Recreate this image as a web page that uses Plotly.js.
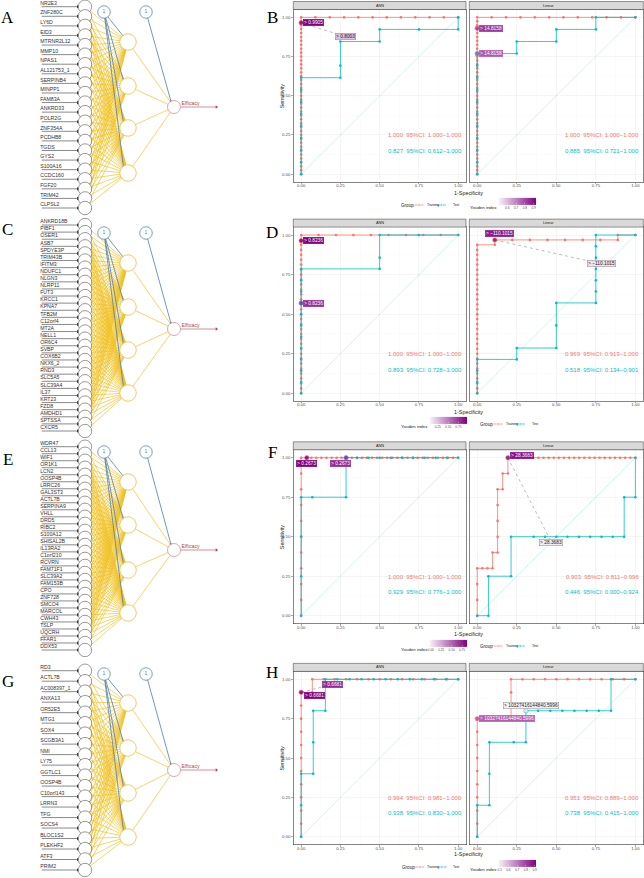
<!DOCTYPE html>
<html>
<head>
<meta charset="utf-8">
<script src="https://cdn.plot.ly/plotly-3.0.1.min.js"></script>
<style>
html,body{margin:0;padding:0;background:#ffffff;}
#chart{width:644px;height:878px;}
</style>
</head>
<body>
<div id="chart"></div>
<script>
// ======================= DATA =======================
// Input genes of the four neural networks (A, C, E, G)
const genesA = ['NR2E3','ZNF280C','LY6D','EID3','MTRNR2L12','MMP10','NPAS1','AL121753_1','SERPINB4','MINPP1','FAM83A','ANKRD33','POLR2G','ZNF354A','PCDHB8','TGDS','GYS2','S100A16','CCDC160','FGF20','TRIM42','CLPSL2'];
const genesC = ['ANKRD18B','PIBF1','OSER1','ASB7','SPDYE3P','TRIM43B','IFITM3','NDUFC1','NLGN3','NLRP11','FUT3','KRCC1','KPNA7','TFB2M','C12orf4','MT2A','NELL1','OR6C4','SVBP','COX6B2','NKX6_2','RND3','SLC5A5','SLC39A4','IL37','KRT23','FZD8','AMDHD1','SPTSSA','CXCR5'];
const genesE = ['WDR47','CCL13','WIF1','OR1K1','LCN2','OOSP4B','LRRC26','GAL3ST3','ACTL7B','SERPINA9','VHLL','DRD5','RIBC2','S100A12','SHISAL2B','IL13RA2','C1orf210','RCVRN','FAM71F1','SLC39A2','FAM153B','CPO','ZNF728','SMCO4','MARCOL','CWH43','TSLP','UQCRH','FFAR1','DDX53'];
const genesG = ['RD3','ACTL7B','AC008397_1','ANXA13','OR52E5','MTG1','SOX4','SCGB3A1','NMI','LY75','GGTLC1','OOSP4B','C10orf143','LRRN3','TFG','SOCS4','BLOC1S2','PLEKHF2','ATF3','PRIM2'];
const hiddenCount = 4;
const outputName = 'Efficacy';
const biasLabel = '1';

// ROC curves: fpr = 1-Specificity, tpr = Sensitivity
// Panel B
const bAnnTrFpr = [0,0,0,0,0,0,0,0,0,0, 0,0,0,0,0,0,0,0,0,0, 0,0,0,0,0,0,0,0,0,0, 0,0,0,0,0,0,0,0,0,0, 0, 0.091,0.182,0.273,0.364,0.455,0.545,0.636,0.727,0.818,0.909,1];
const bAnnTrTpr = [0,0.025,0.05,0.075,0.1,0.125,0.15,0.175,0.2,0.225,0.25,0.275,0.3,0.325,0.35,0.375,0.4,0.425,0.45,0.475,0.5,0.525,0.55,0.575,0.6,0.625,0.65,0.675,0.7,0.725,0.75,0.775,0.8,0.825,0.85,0.875,0.9,0.925,0.95,0.975,1, 1,1,1,1,1,1,1,1,1,1,1];
const bAnnTeFpr = [0,0,0,0,0,0,0,0,0, 0.25,0.25,0.25, 0.5,0.5, 0.75, 1,1];
const bAnnTeTpr = [0,0.077,0.154,0.231,0.308,0.385,0.462,0.538,0.615, 0.615,0.692,0.846, 0.846,0.923, 0.923, 0.923,1];
const bLinTrFpr = [0,0,0,0,0,0,0,0,0,0, 0,0,0,0,0,0,0,0,0,0, 0,0,0,0,0,0,0,0,0,0, 0,0,0,0,0,0,0,0,0,0, 0, 0.091,0.182,0.273,0.364,0.455,0.545,0.636,0.727,0.818,0.909,1];
const bLinTrTpr = [0,0.025,0.05,0.075,0.1,0.125,0.15,0.175,0.2,0.225,0.25,0.275,0.3,0.325,0.35,0.375,0.4,0.425,0.45,0.475,0.5,0.525,0.55,0.575,0.6,0.625,0.65,0.675,0.7,0.725,0.75,0.775,0.8,0.825,0.85,0.875,0.9,0.925,0.95,0.975,1, 1,1,1,1,1,1,1,1,1,1,1];
const bLinTeFpr = [0,0,0,0,0,0,0,0,0,0,0, 0.25,0.25, 0.5,0.5, 0.75,0.75, 1];
const bLinTeTpr = [0,0.077,0.154,0.231,0.308,0.385,0.462,0.538,0.615,0.692,0.769, 0.769,0.846, 0.846,0.923, 0.923,1, 1];
// Panel D
const dAnnTrFpr = [0,0,0,0,0,0,0,0,0,0, 0,0,0,0,0,0,0,0,0,0, 0,0,0,0,0,0,0,0,0,0, 0,0,0, 0.111,0.222,0.333,0.444,0.556,0.667,0.778,0.889,1];
const dAnnTrTpr = [0,0.031,0.063,0.094,0.125,0.156,0.188,0.219,0.25,0.281,0.313,0.344,0.375,0.406,0.438,0.469,0.5,0.531,0.563,0.594,0.625,0.656,0.688,0.719,0.75,0.781,0.813,0.844,0.875,0.906,0.938,0.969,1, 1,1,1,1,1,1,1,1,1];
const dAnnTeFpr = [0,0,0,0,0,0,0,0,0,0,0,0, 0.5,0.5,0.5, 0.75, 1];
const dAnnTeTpr = [0,0.071,0.143,0.214,0.286,0.357,0.429,0.5,0.571,0.643,0.714,0.786, 0.786,0.857,1, 1, 1];
const dLinTrFpr = [0,0,0,0,0,0,0,0,0,0, 0,0,0,0,0,0,0,0,0,0, 0,0,0,0,0,0,0,0,0,0, 0, 0.111,0.111,0.222,0.333,0.444,0.556,0.667,0.778,0.889,0.889,1];
const dLinTrTpr = [0,0.031,0.063,0.094,0.125,0.156,0.188,0.219,0.25,0.281,0.313,0.344,0.375,0.406,0.438,0.469,0.5,0.531,0.563,0.594,0.625,0.656,0.688,0.719,0.75,0.781,0.813,0.844,0.875,0.906,0.938, 0.938,0.969,0.969,0.969,0.969,0.969,0.969,0.969,0.969,1,1];
const dLinTeFpr = [0,0,0,0, 0.25,0.25, 0.5,0.5,0.5, 0.75,0.75,0.75,0.75,0.75,0.75,0.75, 1];
const dLinTeTpr = [0,0.071,0.143,0.214, 0.214,0.286, 0.286,0.429,0.571, 0.571,0.643,0.714,0.786,0.857,0.929,1, 1];
// Panel F
const fAnnTrFpr = [0,0,0,0,0,0,0,0,0,0,0, 0.032,0.065,0.097,0.129,0.161,0.194,0.226,0.258,0.29,0.323,0.355,0.387,0.419,0.452,0.484,0.516,0.548,0.581,0.613,0.645,0.677,0.71,0.742,0.774,0.806,0.839,0.871,0.903,0.935,0.968,1];
const fAnnTrTpr = [0,0.1,0.2,0.3,0.4,0.5,0.6,0.7,0.8,0.9,1, 1,1,1,1,1,1,1,1,1,1,1,1,1,1,1,1,1,1,1,1,1,1,1,1,1,1,1,1,1,1,1];
const fAnnTeFpr = [0,0,0,0, 0.071, 0.286,0.286,0.357,0.429,0.5,0.571,0.643,0.714,0.786,0.857,0.929,1];
const fAnnTeTpr = [0,0.25,0.5,0.75, 0.75, 0.75,1,1,1,1,1,1,1,1,1,1,1];
const fLinTrFpr = [0,0,0,0, 0.032,0.065,0.097, 0.097, 0.129,0.129,0.129,0.129,0.129, 0.161,0.161, 0.194,0.194, 0.226,0.258,0.29,0.323,0.355,0.387,0.419,0.452,0.484,0.516,0.548,0.581,0.613,0.645,0.677,0.71,0.742,0.774,0.806,0.839,0.871,0.903,0.935,0.968,1];
const fLinTrTpr = [0,0.1,0.2,0.3, 0.3,0.3,0.3, 0.4, 0.4,0.5,0.6,0.7,0.8, 0.8,0.9, 0.9,1, 1,1,1,1,1,1,1,1,1,1,1,1,1,1,1,1,1,1,1,1,1,1,1,1,1];
const fLinTeFpr = [0,0.071,0.071,0.214,0.214,0.357,0.429,0.5,0.571,0.643,0.714,0.786,0.857,0.929,0.929,1,1];
const fLinTeTpr = [0,0,0.25,0.25,0.5,0.5,0.5,0.5,0.5,0.5,0.5,0.5,0.5,0.5,0.75,0.75,1];
// Panel H
const hAnnTrFpr = [0,0,0,0,0,0,0,0,0,0,0,0, 0.071,0.071,0.143,0.214,0.286,0.357,0.429,0.5,0.571,0.643,0.714,0.786,0.857,0.929,1];
const hAnnTrTpr = [0,0.083,0.167,0.25,0.333,0.417,0.5,0.583,0.667,0.75,0.833,0.917, 0.917,1,1,1,1,1,1,1,1,1,1,1,1,1,1];
const hAnnTeFpr = [0,0,0, 0.077,0.077,0.077, 0.154,0.154, 0.231,0.308,0.385,0.462,0.538,0.615,0.692,0.769,0.846,0.923,1];
const hAnnTeTpr = [0,0.2,0.4, 0.4,0.6,0.8, 0.8,1, 1,1,1,1,1,1,1,1,1,1,1];
const hLinTrFpr = [0,0,0,0,0,0,0,0,0,0, 0.214,0.214,0.214,0.214, 0.286,0.357,0.429,0.5,0.571,0.643,0.714,0.786,0.857,0.929,1];
const hLinTrTpr = [0,0.083,0.167,0.25,0.333,0.417,0.5,0.583,0.667,0.75, 0.75,0.833,0.917,1, 1,1,1,1,1,1,1,1,1,1,1];
const hLinTeFpr = [0,0, 0.077,0.077,0.077, 0.231, 0.308,0.308, 0.385,0.462,0.538,0.615,0.692,0.769,0.846, 0.846,1];
const hLinTeTpr = [0,0.2, 0.2,0.4,0.6, 0.6, 0.6,0.8, 0.8,0.8,0.8,0.8,0.8,0.8,0.8, 1,1];

const diagX = [0, 1];
const diagY = [0, 1];

// AUC texts (order: B-ANN, B-Linear, D-ANN, D-Linear, F-ANN, F-Linear, H-ANN, H-Linear)
const aucTrain = ['1.000  95%CI: 1.000\u22121.000','1.000  95%CI: 1.000\u22121.000','1.000  95%CI: 1.000\u22121.000','0.969  95%CI: 0.913\u22121.000','1.000  95%CI: 1.000\u22121.000','0.903  95%CI: 0.811\u22120.996','0.994  95%CI: 0.981\u22121.000','0.951  95%CI: 0.889\u22121.000'];
const aucTest  = ['0.827  95%CI: 0.612\u22121.000','0.885  95%CI: 0.721\u22121.000','0.893  95%CI: 0.728\u22121.000','0.518  95%CI: 0.134\u22120.901','0.929  95%CI: 0.776\u22121.000','0.446  95%CI: 0.000\u22120.924','0.938  95%CI: 0.830\u22121.000','0.738  95%CI: 0.415\u22121.000'];
const facetNames = ['ANN','Linear'];
const groupNames = ['Training','Test'];

// Optimal cut-offs (panel index 0..7, group, threshold text, Youden index, point on curve)
const cutPanel  = [0,0,1,1, 2,2,3,3, 4,4,5,5, 6,6,7,7];
const cutGroup  = ['Training','Test','Training','Test','Training','Test','Training','Test','Training','Test','Training','Test','Training','Test','Training','Test'];
const cutText   = ['> 0.9905','> 0.8003','> 14.8158','> 14.8158','> 0.8236','> 0.8236','> \u2212110.1015','> \u2212110.1015','> 0.2673','> 0.2673','> 28.3683','> 28.3683','> 0.6681','> 0.6681','> 10327416144840.5996','> 10327416144840.5996'];
const cutYouden = [1.0,0.596,0.83,0.769, 0.96,0.786,0.858,0.12, 0.968,0.714,0.806,0.0, 0.917,0.846,0.75,0.492];
const cutPointX = [0,0,0,0, 0,0,0.111,0.111, 0.036,0.286,0.194,0.194, 0,0,0,0.308];
const cutPointY = [0.965,0.965,0.93,0.768, 0.964,0.57,0.969,0.969, 1,1,1,1, 0.917,0.917,0.75,0.8];

// ======================= PLACEMENT / STYLE =======================
const W = 644, H = 878;
const FONT = 'Liberation Sans, Arial, Helvetica, sans-serif';
const TRAIN_COL = '#F8766D', TEST_COL = '#00BFC4';
const LOW = [247,240,248], HIGH = [128,0,128];
// repelled label centres (data units) and whether a leader segment is drawn
const labelPosX = [0.081,0.282,0.085,0.087, 0.08,0.08,0.143,0.785, 0.032,0.25,0.283,0.469, 0.082,0.198,0.19,0.343];
const labelPosY = [0.964,0.878,0.932,0.768, 0.964,0.568,1.008,0.818, 0.962,0.962,1.017,0.466, 0.898,0.968,0.748,0.835];
const labelSeg  = [false,true,false,false, false,false,false,true, false,false,false,true, false,true,false,false];

const rocRows = [
  {top: 9.5,   bot: 182,   xTitleY: 192.5, yTitle: true,  letterY: 17,
   cb: {lo:0.51, hi:0.93, ticks:[0.6,0.7,0.8,0.9], fmt:'.1f', x:499.3, y:204.7}, youden:{x:468.3, y:207.5}, group:{x:399.3, y:205}},
  {top: 227.1, bot: 401.2, xTitleY: 411.5, yTitle: false, letterY: 232,
   cb: {lo:0.06, hi:0.96, ticks:[0.25,0.5,0.75], fmt:'.2f', x:430, y:423.7}, youden:{x:398.5, y:426.5}, group:{x:478.3, y:424}},
  {top: 449.8, bot: 623.6, xTitleY: 633.5, yTitle: true, letterY: 452,
   cb: {lo:-0.02, hi:0.87, ticks:[0,0.25,0.5,0.75], fmt:'.2f', x:430, y:646.5}, youden:{x:398.5, y:649.5}, group:{x:478.3, y:646}},
  {top: 671.4, bot: 844.6, xTitleY: 854, yTitle: true, letterY: 672,
   cb: {lo:0.495, hi:0.92, ticks:[0.5,0.6,0.7,0.8,0.9], fmt:'.1f', x:499.3, y:867}, youden:{x:468.3, y:869.5}, group:{x:400, y:867}}
];
const rocCols = [{l: 293.3, r: 466}, {l: 469.3, r: 643.3}];

const netRows = [
  {genes: genesA, top: 6.7,   bot: 208, hidden: [42,86,128,173],  bias: 12,  out: 107, letter:'A', letterY: 17},
  {genes: genesC, top: 225,   bot: 431, hidden: [263,307,350,393], bias: 233, out: 329, letter:'C', letterY: 229},
  {genes: genesE, top: 446.7, bot: 650, hidden: [482,525,570,613], bias: 452, out: 550, letter:'E', letterY: 459},
  {genes: genesG, top: 670.7, bot: 870, hidden: [703,748,793,837], bias: 674, out: 770, letter:'G', letterY: 681}
];
const rightLetters = ['B','D','F','H'];

const panels = [
  {row:0, col:0, trX:bAnnTrFpr, trY:bAnnTrTpr, teX:bAnnTeFpr, teY:bAnnTeTpr},
  {row:0, col:1, trX:bLinTrFpr, trY:bLinTrTpr, teX:bLinTeFpr, teY:bLinTeTpr},
  {row:1, col:0, trX:dAnnTrFpr, trY:dAnnTrTpr, teX:dAnnTeFpr, teY:dAnnTeTpr},
  {row:1, col:1, trX:dLinTrFpr, trY:dLinTrTpr, teX:dLinTeFpr, teY:dLinTeTpr},
  {row:2, col:0, trX:fAnnTrFpr, trY:fAnnTrTpr, teX:fAnnTeFpr, teY:fAnnTeTpr},
  {row:2, col:1, trX:fLinTrFpr, trY:fLinTrTpr, teX:fLinTeFpr, teY:fLinTeTpr},
  {row:3, col:0, trX:hAnnTrFpr, trY:hAnnTrTpr, teX:hAnnTeFpr, teY:hAnnTeTpr},
  {row:3, col:1, trX:hLinTrFpr, trY:hLinTrTpr, teX:hLinTeFpr, teY:hLinTeTpr}
];

function youdenColor(v, lo, hi) {
  let t = (v - lo) / (hi - lo); t = Math.max(0, Math.min(1, t));
  const c = LOW.map((l, k) => Math.round(l + (HIGH[k] - l) * t));
  return {css: 'rgb(' + c.join(',') + ')', t: t};
}
const colorscale = [[0, 'rgb(247,240,248)'], [1, 'rgb(128,0,128)']];
const esc = s => s.replace(/&/g,'&amp;').replace(/</g,'&lt;').replace(/>/g,'&gt;').replace(/  /g,'\u00a0\u00a0');

const traces = [];
const annotations = [];
const shapes = [];
const layout = {
  width: W, height: H, margin: {l:0, r:0, t:0, b:0, pad:0},
  paper_bgcolor: '#ffffff', plot_bgcolor: '#ffffff',
  showlegend: false, hovermode: false,
  font: {family: FONT, color: '#333333'},
  xaxis: {domain:[0,1], range:[0,W], visible:false, fixedrange:true},
  yaxis: {domain:[0,1], range:[H,0], visible:false, fixedrange:true},
  annotations: annotations, shapes: shapes
};

// ======================= NEURAL NETWORK DIAGRAMS =======================
const X_TXT = 41.7, X_ARR_END = 77.8, X_IN = 85, X_HID = 128, X_B1 = 104, X_B2 = 146, X_OUT = 174, X_OUT_END = 216.5;
netRows.forEach(net => {
  const n = net.genes.length;
  const gy = net.genes.map((g, i) => net.top + i * (net.bot - net.top) / (n - 1));
  const hy = net.hidden.slice(0, hiddenCount);
  // yellow weights input -> hidden, hidden -> output
  const yx = [], yy = [];
  gy.forEach(y0 => hy.forEach(y1 => { yx.push(X_IN, X_HID, null); yy.push(y0, y1, null); }));
  hy.forEach(y1 => { yx.push(X_HID, X_OUT, null); yy.push(y1, net.out, null); });
  traces.push({x: yx, y: yy, mode: 'lines', line: {color: 'rgba(240,192,30,0.95)', width: 0.7}, hoverinfo: 'skip'});
  // blue bias weights
  const bx = [], by = [];
  hy.forEach(y1 => { bx.push(X_B1, X_HID - 4.5, null); by.push(net.bias, y1 - 5.5, null); });
  bx.push(X_B2, X_OUT - 3); by.push(net.bias, net.out - 5.5);
  traces.push({x: bx, y: by, mode: 'lines', line: {color: '#4F7FA8', width: 0.8}, hoverinfo: 'skip'});
  const bdx = hy.map(() => X_HID - 4.5).concat([X_OUT - 3]);
  const bdy = hy.map(y1 => y1 - 5.5).concat([net.out - 5.5]);
  traces.push({x: bdx, y: bdy, mode: 'markers', marker: {size: 2.2, color: '#2E5B80'}, hoverinfo: 'skip'});
  // input arrows
  const ax = [], ay = [];
  gy.forEach(y => { ax.push(X_TXT, X_ARR_END, null); ay.push(y, y, null); });
  traces.push({x: ax, y: ay, mode: 'lines', line: {color: '#3a3a3a', width: 0.6}, hoverinfo: 'skip'});
  traces.push({x: gy.map(() => X_ARR_END), y: gy, mode: 'markers', marker: {symbol: 'triangle-right', size: 3.2, color: '#3a3a3a'}, hoverinfo: 'skip'});
  // gene names
  traces.push({x: gy.map(() => X_TXT - 1.5), y: gy.map(y => y - 3.1), mode: 'text', text: net.genes, textposition: 'middle right',
    textfont: {size: 5.2, color: '#333333', family: FONT}, hoverinfo: 'skip'});
  // input nodes
  traces.push({x: gy.map(() => X_IN), y: gy, mode: 'markers', marker: {size: 13.4, color: '#ffffff', line: {color: '#555555', width: 0.6}}, hoverinfo: 'skip'});
  // hidden nodes
  traces.push({x: hy.map(() => X_HID), y: hy, mode: 'markers', marker: {size: 16.5, color: '#ffffff', line: {color: '#E8C13A', width: 0.8}}, hoverinfo: 'skip'});
  // bias nodes
  traces.push({x: [X_B1, X_B2], y: [net.bias, net.bias], mode: 'markers+text', text: [biasLabel, biasLabel], textposition: 'middle center',
    textfont: {size: 5, color: '#4F7FA8', family: FONT},
    marker: {size: 12.5, color: '#ffffff', line: {color: '#5B87AE', width: 0.8}}, hoverinfo: 'skip'});
  // output node and arrow
  traces.push({x: [X_OUT + 6.5, X_OUT_END], y: [net.out, net.out], mode: 'lines', line: {color: '#B5474B', width: 0.6}, hoverinfo: 'skip'});
  traces.push({x: [X_OUT_END], y: [net.out], mode: 'markers', marker: {symbol: 'triangle-right', size: 3.2, color: '#B5474B'}, hoverinfo: 'skip'});
  traces.push({x: [X_OUT], y: [net.out], mode: 'markers', marker: {size: 13, color: '#ffffff', line: {color: '#D98F8F', width: 0.8}}, hoverinfo: 'skip'});
  traces.push({x: [X_OUT + 7.5], y: [net.out - 3], mode: 'text', text: [outputName], textposition: 'middle right',
    textfont: {size: 5.2, color: '#B5474B', family: FONT}, hoverinfo: 'skip'});
  annotations.push({x: 7.5, y: net.letterY, xref: 'x', yref: 'y', text: net.letter, showarrow: false,
    font: {family: 'Liberation Serif, Times New Roman, serif', size: 17, color: '#000'}});
});

// ======================= ROC PANELS =======================
const tickVals = [0, 0.25, 0.5, 0.75, 1];
const tickTxt = ['0.00', '0.25', '0.50', '0.75', '1.00'];
panels.forEach((p, i) => {
  const n = i + 2;
  const r = rocRows[p.row], c = rocCols[p.col];
  const xr = 'x' + n, yr = 'y' + n;
  layout['xaxis' + n] = {
    domain: [c.l / W, c.r / W], range: [-0.05, 1.05], anchor: yr, fixedrange: true,
    tickmode: 'array', tickvals: tickVals, ticktext: tickTxt,
    ticks: 'outside', ticklen: 1.5, tickwidth: 0.4, tickcolor: '#333333', ticklabelstandoff: -2,
    tickfont: {size: 4.3, color: '#4D4D4D', family: FONT},
    showline: true, mirror: true, linecolor: '#333333', linewidth: 0.6,
    showgrid: true, gridcolor: '#EBEBEB', gridwidth: 0.5, zeroline: false,
    minor: {tickmode: 'linear', tick0: 0.125, dtick: 0.25, showgrid: true, gridcolor: '#F5F5F5', gridwidth: 0.3, ticks: ''}
  };
  layout['yaxis' + n] = {
    domain: [1 - r.bot / H, 1 - r.top / H], range: [-0.05, 1.05], anchor: xr, fixedrange: true,
    tickmode: 'array', tickvals: tickVals, ticktext: tickTxt,
    ticks: p.col === 0 ? 'outside' : '', ticklen: 1.5, tickwidth: 0.4, tickcolor: '#333333',
    showticklabels: p.col === 0,
    tickfont: {size: 4.3, color: '#4D4D4D', family: FONT},
    showline: true, mirror: true, linecolor: '#333333', linewidth: 0.6,
    showgrid: true, gridcolor: '#EBEBEB', gridwidth: 0.5, zeroline: false,
    minor: {tickmode: 'linear', tick0: 0.125, dtick: 0.25, showgrid: true, gridcolor: '#F5F5F5', gridwidth: 0.3, ticks: ''}
  };
  // strip
  shapes.push({type: 'rect', xref: 'paper', yref: 'paper', x0: c.l / W, x1: c.r / W,
    y0: 1 - r.top / H, y1: 1 - (r.top - 8) / H, fillcolor: '#D9D9D9', line: {color: '#333333', width: 0.5}, layer: 'above'});
  annotations.push({xref: 'paper', yref: 'paper', x: (c.l + c.r) / 2 / W, y: 1 - (r.top - 4) / H, text: facetNames[p.col],
    showarrow: false, font: {size: 3.8, color: '#1A1A1A', family: FONT}, yanchor: 'middle'});
  // diagonal
  traces.push({x: diagX, y: diagY, xaxis: xr, yaxis: yr, mode: 'lines', line: {color: 'rgba(0,191,196,0.3)', width: 0.6}, hoverinfo: 'skip'});
  // curves
  traces.push({x: p.trX, y: p.trY, xaxis: xr, yaxis: yr, mode: 'lines+markers', name: groupNames[0],
    line: {color: TRAIN_COL, width: 0.8}, marker: {size: 2.6, color: TRAIN_COL}, hoverinfo: 'skip'});
  traces.push({x: p.teX, y: p.teY, xaxis: xr, yaxis: yr, mode: 'lines+markers', name: groupNames[1],
    line: {color: TEST_COL, width: 0.8}, marker: {size: 2.6, color: TEST_COL}, hoverinfo: 'skip'});
  // AUC texts
  annotations.push({xref: xr, yref: yr, x: 1.036, y: 0.247, xanchor: 'right', yanchor: 'middle', showarrow: false,
    text: esc(aucTrain[i]), font: {size: 6, color: TRAIN_COL, family: FONT}});
  annotations.push({xref: xr, yref: yr, x: 1.036, y: 0.148, xanchor: 'right', yanchor: 'middle', showarrow: false,
    text: esc(aucTest[i]), font: {size: 6, color: TEST_COL, family: FONT}});
});

// cut-off labels
cutPanel.forEach((pi, k) => {
  const n = pi + 2, xr = 'x' + n, yr = 'y' + n;
  const r = rocRows[panels[pi].row];
  const col = cutGroup[k] === 'Training' ? TRAIN_COL : TEST_COL;
  const yc = youdenColor(cutYouden[k], r.cb.lo, r.cb.hi);
  if (labelSeg[k]) {
    traces.push({x: [cutPointX[k], labelPosX[k]], y: [cutPointY[k], labelPosY[k]], xaxis: xr, yaxis: yr, mode: 'lines',
      line: {color: 'rgba(90,90,90,0.8)', width: 0.5, dash: 'dot'}, hoverinfo: 'skip'});
  } else {
    traces.push({x: [cutPointX[k]], y: [cutPointY[k]], xaxis: xr, yaxis: yr, mode: 'markers',
      marker: {size: 4.5, color: yc.css, opacity: 0.85, line: {color: col, width: 0.6}}, hoverinfo: 'skip'});
  }
  annotations.push({xref: xr, yref: yr, x: labelPosX[k], y: labelPosY[k], text: esc(cutText[k]), showarrow: false,
    bgcolor: yc.css, bordercolor: yc.t > 0.55 ? yc.css : '#8A8A8A', borderwidth: 0.5, borderpad: 0.6,
    font: {size: 4.8, color: yc.t > 0.55 ? '#FFFFFF' : '#222222', family: FONT}});
});

// per-row legends, colour bars, axis titles, letters
rocRows.forEach((r, ri) => {
  const ks = cutPanel.map((p, k) => k).filter(k => panels[cutPanel[k]].row === ri);
  const n = ri * 2 + 2;
  traces.push({x: ks.map(k => labelPosX[k]), y: ks.map(k => labelPosY[k]), xaxis: 'x' + n, yaxis: 'y' + n, mode: 'markers',
    marker: {size: 1, opacity: 0, color: ks.map(k => cutYouden[k]), cmin: r.cb.lo, cmax: r.cb.hi, colorscale: colorscale, showscale: true,
      colorbar: {orientation: 'h', x: r.cb.x / W, xanchor: 'left', y: 1 - r.cb.y / H, yanchor: 'middle', xref: 'paper', yref: 'paper',
        len: 37.4, lenmode: 'pixels', thickness: 7.3, thicknessmode: 'pixels', outlinewidth: 0, xpad: 0, ypad: 0,
        tickmode: 'array', tickvals: r.cb.ticks, ticktext: r.cb.ticks.map(v => r.cb.fmt === '.1f' ? v.toFixed(1) : v.toFixed(2)),
        ticks: 'inside', ticklen: 1.5, tickcolor: '#ffffff', tickwidth: 0.4,
        tickfont: {size: 3.1, color: '#4D4D4D', family: FONT}}},
    hoverinfo: 'skip'});
  annotations.push({xref: 'x', yref: 'y', x: r.youden.x, y: r.youden.y, xanchor: 'left', yanchor: 'middle', text: 'Youden index',
    showarrow: false, font: {size: 4.4, color: '#1A1A1A', family: FONT}});
  // group legend
  const gx = r.group.x, gyy = r.group.y;
  annotations.push({xref: 'x', yref: 'y', x: gx, y: gyy, xanchor: 'left', yanchor: 'middle', text: 'Group',
    showarrow: false, font: {size: 4.6, color: '#1A1A1A', family: FONT}});
  [[15.3, 24.3, TRAIN_COL, groupNames[0], 25.2], [37.2, 46.6, TEST_COL, groupNames[1], 51.2]].forEach(g => {
    traces.push({x: [gx + g[0], (gx + g[0] + gx + g[1]) / 2, gx + g[1]], y: [gyy, gyy, gyy], mode: 'lines+markers',
      line: {color: g[2], width: 0.7}, marker: {size: [0, 2.6, 0], color: g[2]}, hoverinfo: 'skip'});
    annotations.push({xref: 'x', yref: 'y', x: gx + g[4], y: gyy, xanchor: 'left', yanchor: 'middle', text: g[3],
      showarrow: false, font: {size: 3.4, color: '#1A1A1A', family: FONT}});
  });
  // axis titles
  annotations.push({xref: 'x', yref: 'y', x: (rocCols[0].l + rocCols[1].r) / 2, y: r.xTitleY, text: '1-Specificity',
    showarrow: false, yanchor: 'middle', font: {size: 5.4, color: '#1A1A1A', family: FONT}});
  if (r.yTitle) {
    annotations.push({xref: 'x', yref: 'y', x: 281.5, y: (r.top + r.bot) / 2, text: 'Sensitivity', textangle: -90,
      showarrow: false, font: {size: 5.4, color: '#1A1A1A', family: FONT}});
  }
  annotations.push({xref: 'x', yref: 'y', x: 272, y: r.letterY, text: rightLetters[ri], showarrow: false,
    font: {family: 'Liberation Serif, Times New Roman, serif', size: 17, color: '#000'}});
});

Plotly.newPlot('chart', traces, layout, {staticPlot: true, displayModeBar: false});
</script>
</body>
</html>
